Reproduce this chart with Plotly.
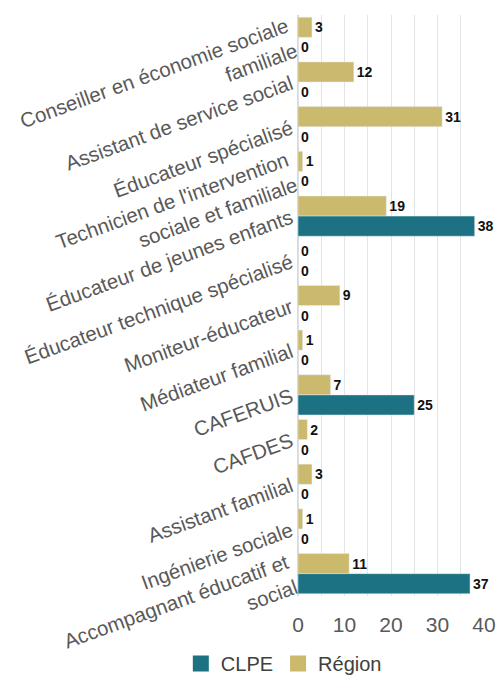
import plotly.graph_objects as go

categories = [
    "Conseiller en économie sociale<br>familiale",
    "Assistant de service social",
    "Éducateur spécialisé",
    "Technicien de l'intervention<br>sociale et familiale",
    "Éducateur de jeunes enfants",
    "Éducateur technique spécialisé",
    "Moniteur-éducateur",
    "Médiateur familial",
    "CAFERUIS",
    "CAFDES",
    "Assistant familial",
    "Ingénierie sociale",
    "Accompagnant éducatif et<br>social",
]
region = [3, 12, 31, 1, 19, 0, 9, 1, 7, 2, 3, 1, 11]
clpe = [0, 0, 0, 0, 38, 0, 0, 0, 25, 0, 0, 0, 37]
x_ticks = [0, 10, 20, 30, 40]

FONT = "Liberation Sans, Arial"
C_REGION = "#CBB96D"
C_CLPE = "#1C7283"

fig = go.Figure()
fig.add_trace(go.Bar(
    y=categories, x=region, orientation="h", name="Région",
    marker_color=C_REGION, textposition="outside",
    textfont=dict(family=FONT, size=14, color="#111111"),
    texttemplate="<b>%{x}</b>", cliponaxis=False, showlegend=False,
))
fig.add_trace(go.Bar(
    y=categories, x=clpe, orientation="h", name="CLPE",
    marker_color=C_CLPE, textposition="outside",
    textfont=dict(family=FONT, size=14, color="#111111"),
    texttemplate="<b>%{x}</b>", cliponaxis=False, showlegend=False,
))
for nm, col, rank in [("CLPE", C_CLPE, 1), ("Région", C_REGION, 2)]:
    fig.add_trace(go.Scatter(
        x=[None], y=[None], mode="markers", name=nm, legendrank=rank,
        marker=dict(symbol="square", size=16, color=col), showlegend=True,
    ))

fig.update_layout(
    width=498, height=680,
    barmode="group", bargap=0.1, bargroupgap=0,
    plot_bgcolor="white", paper_bgcolor="white",
    margin=dict(l=298, r=14, t=15, b=84, autoexpand=False),
    font=dict(family=FONT, color="#595959"),
    showlegend=True,
    legend=dict(orientation="h", x=-0.63, xanchor="left", y=-0.116, yanchor="middle",
                font=dict(size=20, color="#404040"), itemwidth=30, tracegroupgap=0),
    xaxis=dict(range=[0, 40], tickvals=x_ticks, showgrid=True, gridcolor="#E3E3E3",
               minor=dict(dtick=5, showgrid=True, gridcolor="#E3E3E3"),
               tickfont=dict(size=21, color="#595959"), zeroline=True,
               zerolinecolor="#D9D9D9", ticks="", automargin=False,
               ticklabelstandoff=14),
    yaxis=dict(autorange="reversed", tickangle=-20, tickfont=dict(size=20.5, color="#595959"),
               ticks="", showgrid=False, automargin=False, ticklabelstandoff=6),
)

fig.write_html("out.html", post_script="document.body.style.margin='0';",
               config={"displayModeBar": False})
